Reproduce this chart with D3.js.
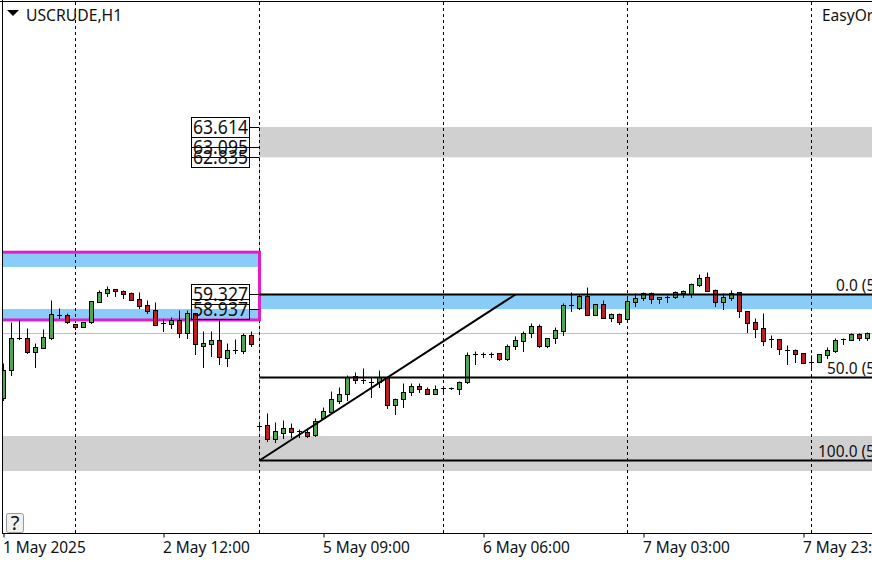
<!DOCTYPE html>
<html><head><meta charset="utf-8">
<script src="https://cdn.jsdelivr.net/npm/d3@7"></script>
<style>
html,body{margin:0;padding:0;background:#fff;overflow:hidden}
svg{display:block}
text{font-family:"Noto Sans",sans-serif;fill:#111}
</style></head><body><svg id="c" width="872" height="562"></svg>
<script>
const opens=[56.66,57.37,58.20,58.20,57.84,57.94,58.20,58.79,58.79,58.56,58.48,58.61,59.12,59.35,59.45,59.40,59.35,59.20,59.04,58.92,58.58,58.56,58.66,58.33,58.84,57.99,58.04,58.15,57.68,57.89,57.86,58.27,
55.94,55.96,55.60,55.76,55.89,55.81,55.78,55.71,56.14,56.30,56.58,56.76,57.22,57.12,57.07,57.07,57.19,56.48,56.63,56.81,56.96,56.89,56.76,56.91,56.91,56.89,57.07,57.79,57.79,57.79,57.81,57.66,57.99,58.12,58.33,58.50,57.99,58.20,58.38,59.04,58.97,59.27,58.79,59.07,58.71,58.81,58.68,59.12,59.22,59.35,59.20,59.25,59.25,59.35,59.33,59.56,59.76,59.43,59.12,59.22,59.38,58.89,58.61,58.45,58.17,58.17,57.89,57.89,57.81,57.58,57.58,57.76,57.86,58.17,58.15,58.30,58.20];
const highs=[57.55,58.61,58.66,58.45,58.07,58.43,59.17,58.97,58.84,58.56,58.61,59.15,59.43,59.53,59.45,59.43,59.38,59.38,59.17,59.12,58.68,58.74,58.92,58.92,58.84,58.38,58.38,58.66,58.07,58.17,58.33,58.38,
56.04,56.27,56.04,56.09,56.02,55.86,55.89,56.14,56.42,56.83,56.94,57.25,57.32,57.43,57.19,57.37,57.19,56.66,57.04,57.04,57.04,56.94,56.99,56.96,56.94,57.09,57.84,57.86,57.84,57.84,57.81,58.04,58.25,58.38,58.58,58.56,58.20,58.48,59.09,59.38,59.33,59.51,59.07,59.17,58.84,58.84,59.27,59.35,59.38,59.38,59.25,59.30,59.40,59.43,59.61,59.84,59.89,59.45,59.35,59.43,59.38,58.89,58.71,58.84,58.27,58.17,58.02,57.91,57.81,57.76,57.79,57.97,58.20,58.20,58.33,58.33,58.35];
const lows=[56.60,57.25,58.17,57.81,57.45,57.94,58.17,58.71,58.58,58.43,58.48,58.58,59.12,59.27,59.27,59.22,59.17,58.97,58.84,58.53,58.38,58.45,58.22,58.20,57.79,57.45,57.73,57.53,57.48,57.81,57.81,57.99,
55.86,55.55,55.53,55.63,55.66,55.66,55.66,55.68,56.12,56.27,56.53,56.60,57.04,57.04,56.68,56.94,56.40,56.24,56.42,56.73,56.81,56.76,56.76,56.81,56.89,56.76,57.04,57.53,57.71,57.71,57.63,57.63,57.91,57.86,58.22,57.97,57.97,58.07,58.27,58.89,58.94,58.79,58.79,58.71,58.63,58.56,58.66,59.02,59.17,59.09,59.09,59.12,59.22,59.25,59.25,59.53,59.40,59.02,58.94,59.17,58.74,58.35,58.22,58.02,57.97,57.79,57.53,57.58,57.55,57.37,57.58,57.68,57.84,58.04,58.15,58.15,58.15];
const closes=[57.37,58.20,58.20,57.84,57.97,58.22,58.81,58.79,58.61,58.48,58.61,59.15,59.38,59.45,59.40,59.33,59.17,59.02,58.89,58.53,58.58,58.66,58.33,58.84,58.04,58.07,58.15,57.71,57.89,57.89,58.27,58.04,
55.94,55.60,55.81,55.89,55.78,55.81,55.68,56.07,56.32,56.63,56.76,57.19,57.12,57.12,57.07,57.19,56.48,56.63,56.81,56.96,56.89,56.76,56.89,56.91,56.91,57.07,57.76,57.79,57.79,57.79,57.66,57.99,58.15,58.33,58.50,57.99,58.20,58.40,59.04,59.04,59.27,58.79,59.07,58.71,58.81,58.61,59.15,59.22,59.35,59.20,59.25,59.25,59.38,59.40,59.58,59.74,59.40,59.12,59.25,59.35,58.89,58.58,58.43,58.12,58.17,57.91,57.89,57.79,57.55,57.58,57.79,57.89,58.15,58.17,58.30,58.20,58.33];

const tickBars=[0,20,40,60,80,100];
const tickLabels=["1 May 2025","2 May 12:00","5 May 09:00","6 May 06:00","7 May 03:00","7 May 23:00"];
const gridBars=[9,32,55,78,101];
const fibLabels=["0.0 (59.327)","50.0 (57.199)","100.0 (55.070)"];
const fibPrices=[59.327,57.199,55.07];
const fibStartBar=32, trendEndBar=64;
const priceTags=[63.614,63.095,62.835,59.327,58.937];
const greyBands=[[63.614,62.835,32],[55.68,54.78,0]];
const blueBands=[[59.327,58.937,32],[60.40,60.02,0],[58.94,58.66,0]];
const magentaBox=[60.40,58.66];
const lastPrice=58.325;

const W=872,H=562,plotBottom=533,plotLeft=2,plotTop=2;
const svg=d3.select("#c");
const x=d3.scaleLinear().domain([0,108]).range([3.5,867.5]);
const y=d3.scaleLinear().domain([63.614,58.325]).range([127,333]);
const py=v=>Math.round(y(v))+.5;
const splitX=x(fibStartBar);
const squeeze=function(){this.setAttribute("textLength",this.getComputedTextLength()*0.965);this.setAttribute("lengthAdjust","spacingAndGlyphs");};

const defs=svg.append("defs");
defs.append("clipPath").attr("id","plot").append("rect").attr("x",plotLeft).attr("y",plotTop).attr("width",W-plotLeft).attr("height",plotBottom-plotTop);
const g=svg.append("g").attr("clip-path","url(#plot)");

g.selectAll("rect.grey").data(greyBands).join("rect").attr("class","grey")
 .attr("x",d=>d[2]?splitX:plotLeft).attr("width",d=>W-(d[2]?splitX:plotLeft))
 .attr("y",d=>y(d[0])).attr("height",d=>y(d[1])-y(d[0])).attr("fill","#d0d0d0");
g.selectAll("rect.blue").data(blueBands).join("rect").attr("class","blue")
 .attr("x",d=>d[2]?splitX:plotLeft).attr("width",d=>d[2]?W-splitX:splitX-plotLeft)
 .attr("y",d=>y(d[0])).attr("height",d=>y(d[1])-y(d[0])).attr("fill","#8accf8");

g.append("line").attr("x1",plotLeft).attr("x2",W).attr("y1",py(lastPrice)).attr("y2",py(lastPrice)).attr("stroke","#c0c0c0");
g.append("line").attr("x1",splitX).attr("x2",splitX).attr("y1",py(63.614)).attr("y2",py(fibPrices[2])).attr("stroke","#c0c0c0");

g.selectAll("line.grid").data(gridBars).join("line").attr("class","grid")
 .attr("x1",d=>x(d)).attr("x2",d=>x(d)).attr("y1",plotTop).attr("y2",plotBottom)
 .attr("stroke","#000").attr("stroke-dasharray","3,3");

g.append("rect").attr("x",-5).attr("width",splitX+5).attr("y",y(magentaBox[0])).attr("height",y(magentaBox[1])-y(magentaBox[0]))
 .attr("fill","none").attr("stroke","#e21fc7").attr("stroke-width",3);

const bars=d3.range(opens.length);
const candles=g.append("g").selectAll("g").data(bars).join("g");
candles.append("line").attr("x1",i=>x(i)).attr("x2",i=>x(i)).attr("y1",i=>py(highs[i])).attr("y2",i=>py(lows[i])+.5).attr("stroke","#000");
candles.append("rect").attr("x",i=>x(i)-2).attr("width",4)
 .attr("y",i=>py(Math.max(opens[i],closes[i])))
 .attr("height",i=>Math.max(0.01,py(Math.min(opens[i],closes[i]))-py(Math.max(opens[i],closes[i]))))
 .attr("fill",i=>closes[i]>opens[i]?"#4da555":closes[i]<opens[i]?"#b81f26":"#000").attr("stroke","#000");

// Fibonacci lines, trend line
g.selectAll("line.fib").data(fibPrices).join("line").attr("class","fib")
 .attr("x1",splitX).attr("x2",W).attr("y1",d=>py(d)).attr("y2",d=>py(d)).attr("stroke","#000").attr("stroke-width",2);
g.append("line").attr("x1",splitX).attr("y1",py(fibPrices[2])).attr("x2",x(trendEndBar)).attr("y2",py(fibPrices[0])).attr("stroke","#000").attr("stroke-width",2);
const fibX=[836,827,818];
g.selectAll("text.fibl").data(fibLabels).join("text").attr("class","fibl")
 .attr("x",(d,i)=>fibX[i]).attr("y",(d,i)=>py(fibPrices[i])-3.5).attr("font-size",16).text(d=>d).each(squeeze);

// price tags
const tags=g.append("g").selectAll("g").data(priceTags).join("g");
tags.append("rect").attr("x",191.5).attr("width",58).attr("y",d=>py(d)-10).attr("height",20).attr("fill","none").attr("stroke","#000");
tags.append("line").attr("x1",249.5).attr("x2",splitX).attr("y1",d=>py(d)).attr("y2",d=>py(d)).attr("stroke","#000");
tags.append("text").attr("x",193).attr("y",d=>py(d)+6.5).attr("font-size",19.5).attr("textLength",55).attr("lengthAdjust","spacingAndGlyphs").text(d=>d.toFixed(3));

// frame
svg.append("line").attr("x1",plotLeft+.5).attr("x2",plotLeft+.5).attr("y1",0).attr("y2",plotBottom).attr("stroke","#000");
svg.append("line").attr("x1",0).attr("x2",W).attr("y1",1.5).attr("y2",1.5).attr("stroke","#000");

// x axis
const axis=d3.axisBottom(x).tickValues(tickBars).tickFormat((d,i)=>tickLabels[i]).tickSize(4).tickPadding(3);
const ax=svg.append("g").attr("transform",`translate(0,${plotBottom+.5})`).call(axis);
ax.select(".domain").attr("d",`M${plotLeft},0H${W}`).attr("stroke","#000");
ax.selectAll(".tick line").attr("stroke","#000");
ax.selectAll(".tick text").attr("text-anchor","start").attr("x",-1).attr("font-size",16).attr("font-family",'"Noto Sans",sans-serif').attr("fill","#111").attr("dy","0.8em").each(squeeze);

// header
svg.append("path").attr("d",d3.line()([[7,10],[19,10],[13,16]])+"Z").attr("fill","#000");
svg.append("text").attr("x",26).attr("y",21).attr("font-size",15.7).text("USCRUDE,H1");
svg.append("text").attr("x",822).attr("y",21).attr("font-size",15.5).text("EasyOrders");

// help button
svg.append("rect").attr("x",6.5).attr("y",513.5).attr("width",17).attr("height",19).attr("rx",2).attr("fill","#f0f0f0").attr("stroke","#999");
svg.append("text").attr("x",15).attr("y",530).attr("text-anchor","middle").attr("font-size",20).text("?");
</script></body></html>
